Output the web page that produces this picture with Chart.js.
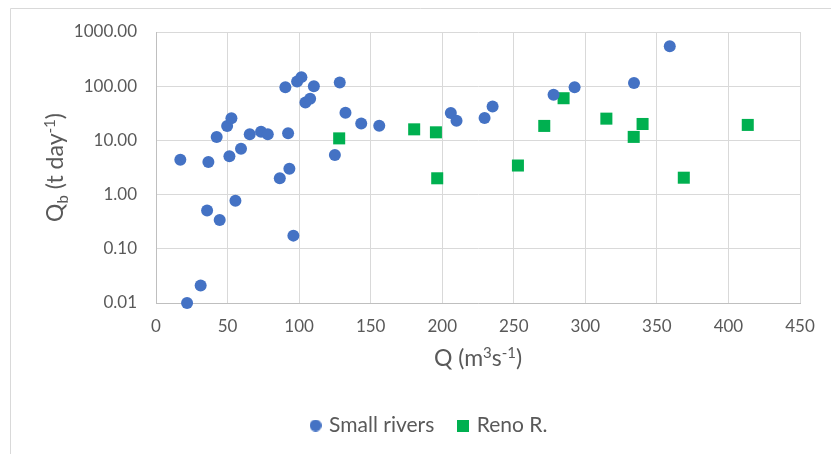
<!DOCTYPE html>
<html>
<head>
<meta charset="utf-8">
<script src="https://cdn.jsdelivr.net/npm/chart.js@4.4.1/dist/chart.umd.min.js"></script>
<style>
  html, body { margin: 0; padding: 0; background: #fff; }
  #wrap { width: 831px; height: 454px; }
</style>
</head>
<body>
<div id="wrap"><canvas id="qbChart" width="831" height="454"></canvas></div>
<script>
// discharge Q (m3/s) and bedload Qb (t/day)
const smallQ = [17.0, 21.7, 31.2, 35.7, 36.6, 42.4, 44.5, 49.7, 51.3, 52.7, 55.5, 59.4, 65.5, 73.4, 78.1,
  86.5, 90.4, 92.3, 93.2, 96.0, 98.6, 101.6, 104.4, 107.7, 110.3, 125.0, 128.4, 132.4, 143.4, 156.0,
  206.0, 210.0, 229.6, 235.2, 277.8, 292.5, 334.0, 359.0];
const smallQb = [4.4, 0.010, 0.021, 0.51, 4.0, 11.6, 0.34, 18.5, 5.1, 25.5, 0.77, 7.0, 13.0, 14.5, 13.0,
  2.0, 96, 13.5, 3.0, 0.175, 122, 147, 50, 58.6, 100, 5.4, 117, 32.4, 20.6, 18.7,
  32, 23.1, 25.9, 42.4, 69.5, 96, 115, 546];
const renoQ = [128.0, 180.4, 195.6, 196.5, 252.9, 271.3, 284.8, 314.7, 333.8, 340.0, 368.8, 413.5];
const renoQb = [10.9, 16, 14.1, 2.0, 3.44, 18.5, 60, 25.2, 11.6, 20.1, 2.05, 19.3];

const xTicks = [0, 50, 100, 150, 200, 250, 300, 350, 400, 450];
const yTicks = [0.01, 0.1, 1, 10, 100, 1000];

const BLUE = '#4472C4';
const GREEN = '#00B050';
const TEXT = '#595959';
const GRID = '#D9D9D9';
const FONT = 'Lato, "Open Sans", sans-serif';

function toPoints(xs, ys) {
  return xs.map((x, i) => ({ x: x, y: ys[i] }));
}

// little canvases used as legend symbols
function legendMarker(kind, color) {
  const c = document.createElement('canvas');
  c.width = 12; c.height = 12;
  const g = c.getContext('2d');
  g.fillStyle = color;
  if (kind === 'circle') {
    g.beginPath();
    g.arc(6, 6, 6, 0, Math.PI * 2);
    g.fill();
  } else {
    g.fillRect(0, 0, 12, 12);
  }
  return c;
}
const markers = [legendMarker('circle', BLUE), legendMarker('rect', GREEN)];

// text with sub/superscript pieces, centred on (cx, cy)
function drawRichText(ctx, parts, size, cx, cy, angle) {
  const small = Math.round(size * 0.65);
  ctx.save();
  ctx.translate(cx, cy);
  ctx.rotate(angle);
  ctx.fillStyle = TEXT;
  ctx.textBaseline = 'alphabetic';
  ctx.textAlign = 'left';
  let total = 0;
  parts.forEach(p => {
    ctx.font = (p[1] ? small : size) + 'px ' + FONT;
    total += ctx.measureText(p[0]).width;
  });
  let x = -total / 2;
  const base = size * 0.36;
  parts.forEach(p => {
    ctx.font = (p[1] ? small : size) + 'px ' + FONT;
    let dy = 0;
    if (p[1] === 'sub') dy = size * 0.22;
    if (p[1] === 'sup') dy = -size * 0.38;
    ctx.fillText(p[0], x, base + dy);
    x += ctx.measureText(p[0]).width;
  });
  ctx.restore();
}

const axisTitles = {
  id: 'axisTitles',
  beforeDraw(chart) {
    // outer frame, left and top edges
    const ctx = chart.ctx;
    ctx.save();
    ctx.strokeStyle = GRID;
    ctx.lineWidth = 1;
    ctx.beginPath();
    ctx.moveTo(10.5, 454);
    ctx.lineTo(10.5, 8.5);
    ctx.lineTo(831, 8.5);
    ctx.stroke();
    ctx.restore();
  },
  afterDraw(chart) {
    const a = chart.chartArea;
    const ctx = chart.ctx;
    drawRichText(ctx, [['Q', ''], ['b', 'sub'], [' (t day', ''], ['-1', 'sup'], [')', '']],
      23, 55, (a.top + a.bottom) / 2, -Math.PI / 2);
    drawRichText(ctx, [['Q (m', ''], ['3', 'sup'], ['s', ''], ['-1', 'sup'], [')', '']],
      23, (a.left + a.right) / 2, 358, 0);
  }
};

new Chart(document.getElementById('qbChart'), {
  type: 'scatter',
  data: {
    datasets: [
      {
        label: 'Small rivers',
        data: toPoints(smallQ, smallQb),
        backgroundColor: BLUE,
        borderColor: BLUE,
        pointStyle: 'circle',
        pointRadius: 6,
        borderWidth: 0,
        clip: false
      },
      {
        label: 'Reno R.',
        data: toPoints(renoQ, renoQb),
        backgroundColor: GREEN,
        borderColor: GREEN,
        pointStyle: 'rect',
        pointRadius: 8.5,
        borderWidth: 0,
        clip: false
      }
    ]
  },
  options: {
    responsive: false,
    animation: false,
    layout: { padding: { top: 32, right: 31, left: 60, bottom: 8 } },
    scales: {
      x: {
        type: 'linear',
        min: 0,
        max: 450,
        afterBuildTicks: s => { s.ticks = xTicks.map(v => ({ value: v })); },
        afterFit: s => { s.height = 86; },
        grid: { color: GRID, drawTicks: false },
        border: { color: '#BFBFBF' },
        ticks: { padding: 13, color: TEXT, font: { family: FONT, size: 17 } }
      },
      y: {
        type: 'logarithmic',
        min: 0.01,
        max: 1000,
        afterBuildTicks: s => { s.ticks = yTicks.map(v => ({ value: v, major: true })); },
        afterFit: s => { s.width = 96; },
        grid: { color: GRID, drawTicks: false },
        border: { color: '#BFBFBF' },
        ticks: {
          padding: 19,
          color: TEXT,
          font: { family: FONT, size: 17 },
          callback: v => Number(v).toFixed(2)
        }
      }
    },
    plugins: {
      tooltip: { enabled: false },
      legend: {
        position: 'bottom',
        labels: {
          usePointStyle: true,
          boxWidth: 6,
          boxHeight: 12,
          padding: 26,
          color: TEXT,
          font: { family: FONT, size: 21 },
          generateLabels: chart => Chart.defaults.plugins.legend.labels.generateLabels(chart)
            .map((item, i) => Object.assign(item, { pointStyle: markers[i] }))
        }
      }
    }
  },
  plugins: [axisTitles]
});
</script>
</body>
</html>
